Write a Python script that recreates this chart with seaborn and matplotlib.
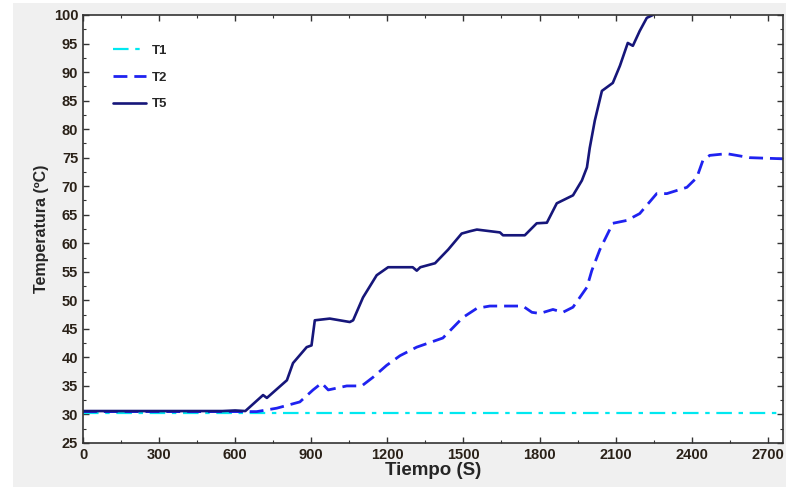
import numpy as np
import pandas as pd
import seaborn as sns
import matplotlib.pyplot as plt
from matplotlib.patches import Rectangle
from matplotlib.ticker import MultipleLocator

# --- DATOS ---
t1_tiempo = [0, 2760]
t1_temp = [30.3, 30.3]

t2_tiempo = [0, 600, 685, 764, 855, 907, 941, 967, 1040, 1099, 1143, 1197, 1250, 1316,
             1419, 1498, 1553, 1604, 1734, 1770, 1801, 1853, 1892, 1932, 1987, 2006,
             2038, 2089, 2144, 2195, 2262, 2302, 2381, 2420, 2444, 2471, 2538, 2629, 2760]
t2_temp = [30.5, 30.5, 30.5, 31.1, 32.2, 34.3, 35.5, 34.3, 35.0, 35.0, 36.5, 38.6, 40.3, 41.8,
           43.4, 47.0, 48.6, 49.0, 49.0, 47.9, 47.7, 48.4, 47.9, 48.8, 52.3, 55.2,
           58.9, 63.5, 64.0, 65.2, 68.7, 68.7, 69.8, 71.5, 74.5, 75.4, 75.7, 75.0, 74.8]

t5_tiempo = [0, 550, 600, 640, 710, 725, 804, 828, 882, 901, 914, 973, 1052, 1065, 1104,
             1158, 1203, 1250, 1300, 1316, 1330, 1388, 1440, 1493, 1525, 1553, 1644, 1656,
             1742, 1789, 1829, 1868, 1932, 1967, 1987, 1998, 2018, 2046, 2089, 2117, 2148,
             2168, 2195, 2223, 2247, 2270]
t5_temp = [30.6, 30.6, 30.7, 30.6, 33.4, 32.9, 36.0, 39.0, 41.8, 42.1, 46.5, 46.8, 46.2, 46.5, 50.5,
           54.4, 55.8, 55.8, 55.8, 55.2, 55.8, 56.5, 58.9, 61.7, 62.1, 62.4, 61.9, 61.4,
           61.4, 63.5, 63.6, 67.0, 68.4, 71.0, 73.3, 76.7, 81.5, 86.7, 88.1, 91.1, 95.1,
           94.6, 97.2, 99.5, 100.0, 100.6]

xticks = [0, 300, 600, 900, 1200, 1500, 1800, 2100, 2400, 2700]
yticks = [25, 30, 35, 40, 45, 50, 55, 60, 65, 70, 75, 80, 85, 90, 95, 100]

sns.set_style("ticks")
plt.rcParams['font.family'] = ['Liberation Sans', 'DejaVu Sans']

fig = plt.figure(figsize=(7.93, 4.96), dpi=100, facecolor='white')
# fondo gris de la ventana
fig.patches.append(Rectangle((13 / 793, 9 / 496), 773 / 793, 484 / 496,
                             transform=fig.transFigure, facecolor='#f0f0f0',
                             edgecolor='none', zorder=-1))
ax = fig.add_axes([83 / 793, 53 / 496, 700 / 793, 428 / 496])

sns.lineplot(x=t1_tiempo, y=t1_temp, ax=ax, color='#00e8f0', lw=1.6,
             label='T1', linestyle=(0, (7, 3, 2, 3)))
sns.lineplot(x=t2_tiempo, y=t2_temp, ax=ax, color='#1f22f0', lw=2.0,
             label='T2', linestyle=(0, (5, 2.5)))
sns.lineplot(x=t5_tiempo, y=t5_temp, ax=ax, color='#16167a', lw=1.9,
             label='T5')

ax.set_xlim(0, 2760)
ax.set_ylim(25, 100)
ax.set_xticks(xticks)
ax.set_yticks(yticks)
ax.xaxis.set_minor_locator(MultipleLocator(150))
ax.yaxis.set_minor_locator(MultipleLocator(2.5))
ax.tick_params(which='both', direction='in', top=True, right=True, colors='#333333',
               labelcolor='#2a2118')
ax.tick_params(which='major', length=4, width=1, labelsize=10.5)
ax.tick_params(which='minor', length=2.5, width=0.8)
for lbl in ax.get_xticklabels() + ax.get_yticklabels():
    lbl.set_fontweight('bold')
for sp in ax.spines.values():
    sp.set_visible(True)
    sp.set_color('#333333')
    sp.set_linewidth(1.2)

ax.set_xlabel('Tiempo (S)', fontsize=13.5, fontweight='bold', labelpad=0)
ax.set_ylabel('Temperatura (ºC)', fontsize=11.5, fontweight='bold', labelpad=3)

leg = ax.legend(loc='upper left', bbox_to_anchor=(0.035, 0.943), frameon=False,
                handlelength=2.5, handletextpad=0.45, labelspacing=1.1,
                borderaxespad=0, prop={'weight': 'bold', 'size': 9.5})

fig.savefig('out.png', dpi=100, facecolor=fig.get_facecolor())
